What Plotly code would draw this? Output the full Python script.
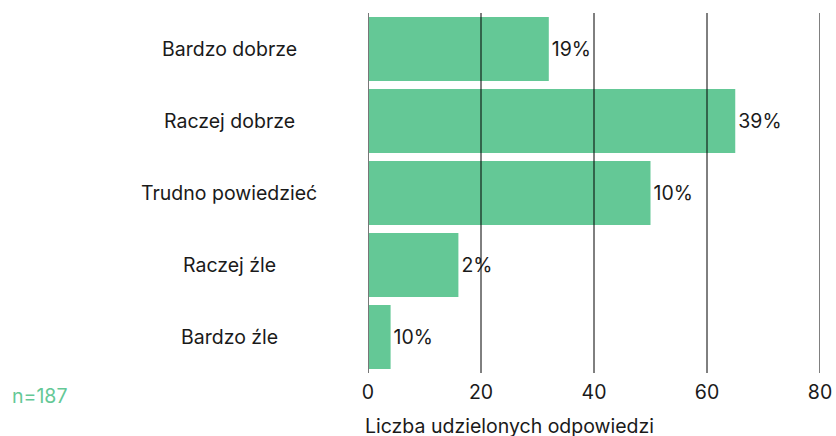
import plotly.graph_objects as go

categories = ["Bardzo dobrze", "Raczej dobrze", "Trudno powiedzieć", "Raczej źle", "Bardzo źle"]
counts = [32, 65, 50, 16, 4]
labels = ["19%", "39%", "10%", "2%", "10%"]
x_ticks = [0, 20, 40, 60, 80]
sample_note = "n=187"
x_title = "Liczba udzielonych odpowiedzi"

BAR = "#64c896"
TXT = "#1a1a1a"
FONT = "Inter, Roboto, sans-serif"
FS = 19.5

fig = go.Figure()
fig.add_trace(go.Bar(
    y=categories, x=counts, orientation="h",
    marker=dict(color=BAR, line=dict(width=0)),
    text=labels, textposition="outside", cliponaxis=False,
    textfont=dict(family=FONT, size=FS, color=TXT),
    hoverinfo="skip",
))

# gridlines drawn above bars
for v in x_ticks:
    fig.add_shape(type="line", xref="x", yref="paper", x0=v, x1=v, y0=0, y1=1,
                  line=dict(color="#777777" if v == 0 else "#000000", width=2 if v == 0 else 1),
                  layer="above")

# centered category labels
for c in categories:
    fig.add_annotation(xref="paper", yref="y", x=-0.3075, y=c, text=c, showarrow=False,
                       xanchor="center", yanchor="middle",
                       font=dict(family=FONT, size=FS, color=TXT))

fig.add_annotation(xref="paper", yref="paper", x=-0.792, y=-0.064, text=sample_note,
                   showarrow=False, xanchor="left", yanchor="middle",
                   font=dict(family=FONT, size=FS, color=BAR))
fig.add_annotation(xref="paper", yref="paper", x=0.312, y=-0.147, text=x_title,
                   showarrow=False, xanchor="center", yanchor="middle",
                   font=dict(family=FONT, size=FS, color=TXT))

fig.update_layout(
    width=836, height=436, autosize=False,
    margin=dict(l=368, r=16, t=13, b=63),
    paper_bgcolor="white", plot_bgcolor="white",
    showlegend=False, bargap=0.11,
    font=dict(family=FONT, size=FS, color=TXT),
)
fig.update_xaxes(range=[0, 80], tickvals=x_ticks, showgrid=False, zeroline=False,
                 showline=False, ticks="", ticklabelstandoff=5, automargin=False,
                 tickfont=dict(family=FONT, size=FS, color=TXT))
fig.update_yaxes(categoryorder="array", categoryarray=categories[::-1], range=[-0.5, 4.5],
                 showticklabels=False, showgrid=False, zeroline=False, showline=False,
                 ticks="", automargin=False)

fig.write_html(
    "out.html",
    config={"displayModeBar": False, "responsive": False, "staticPlot": True},
    post_script="document.body.style.margin='0';document.documentElement.style.overflow='hidden';"
                "Plotly.relayout('{plot_id}', {width: 836, height: 436});",
)
